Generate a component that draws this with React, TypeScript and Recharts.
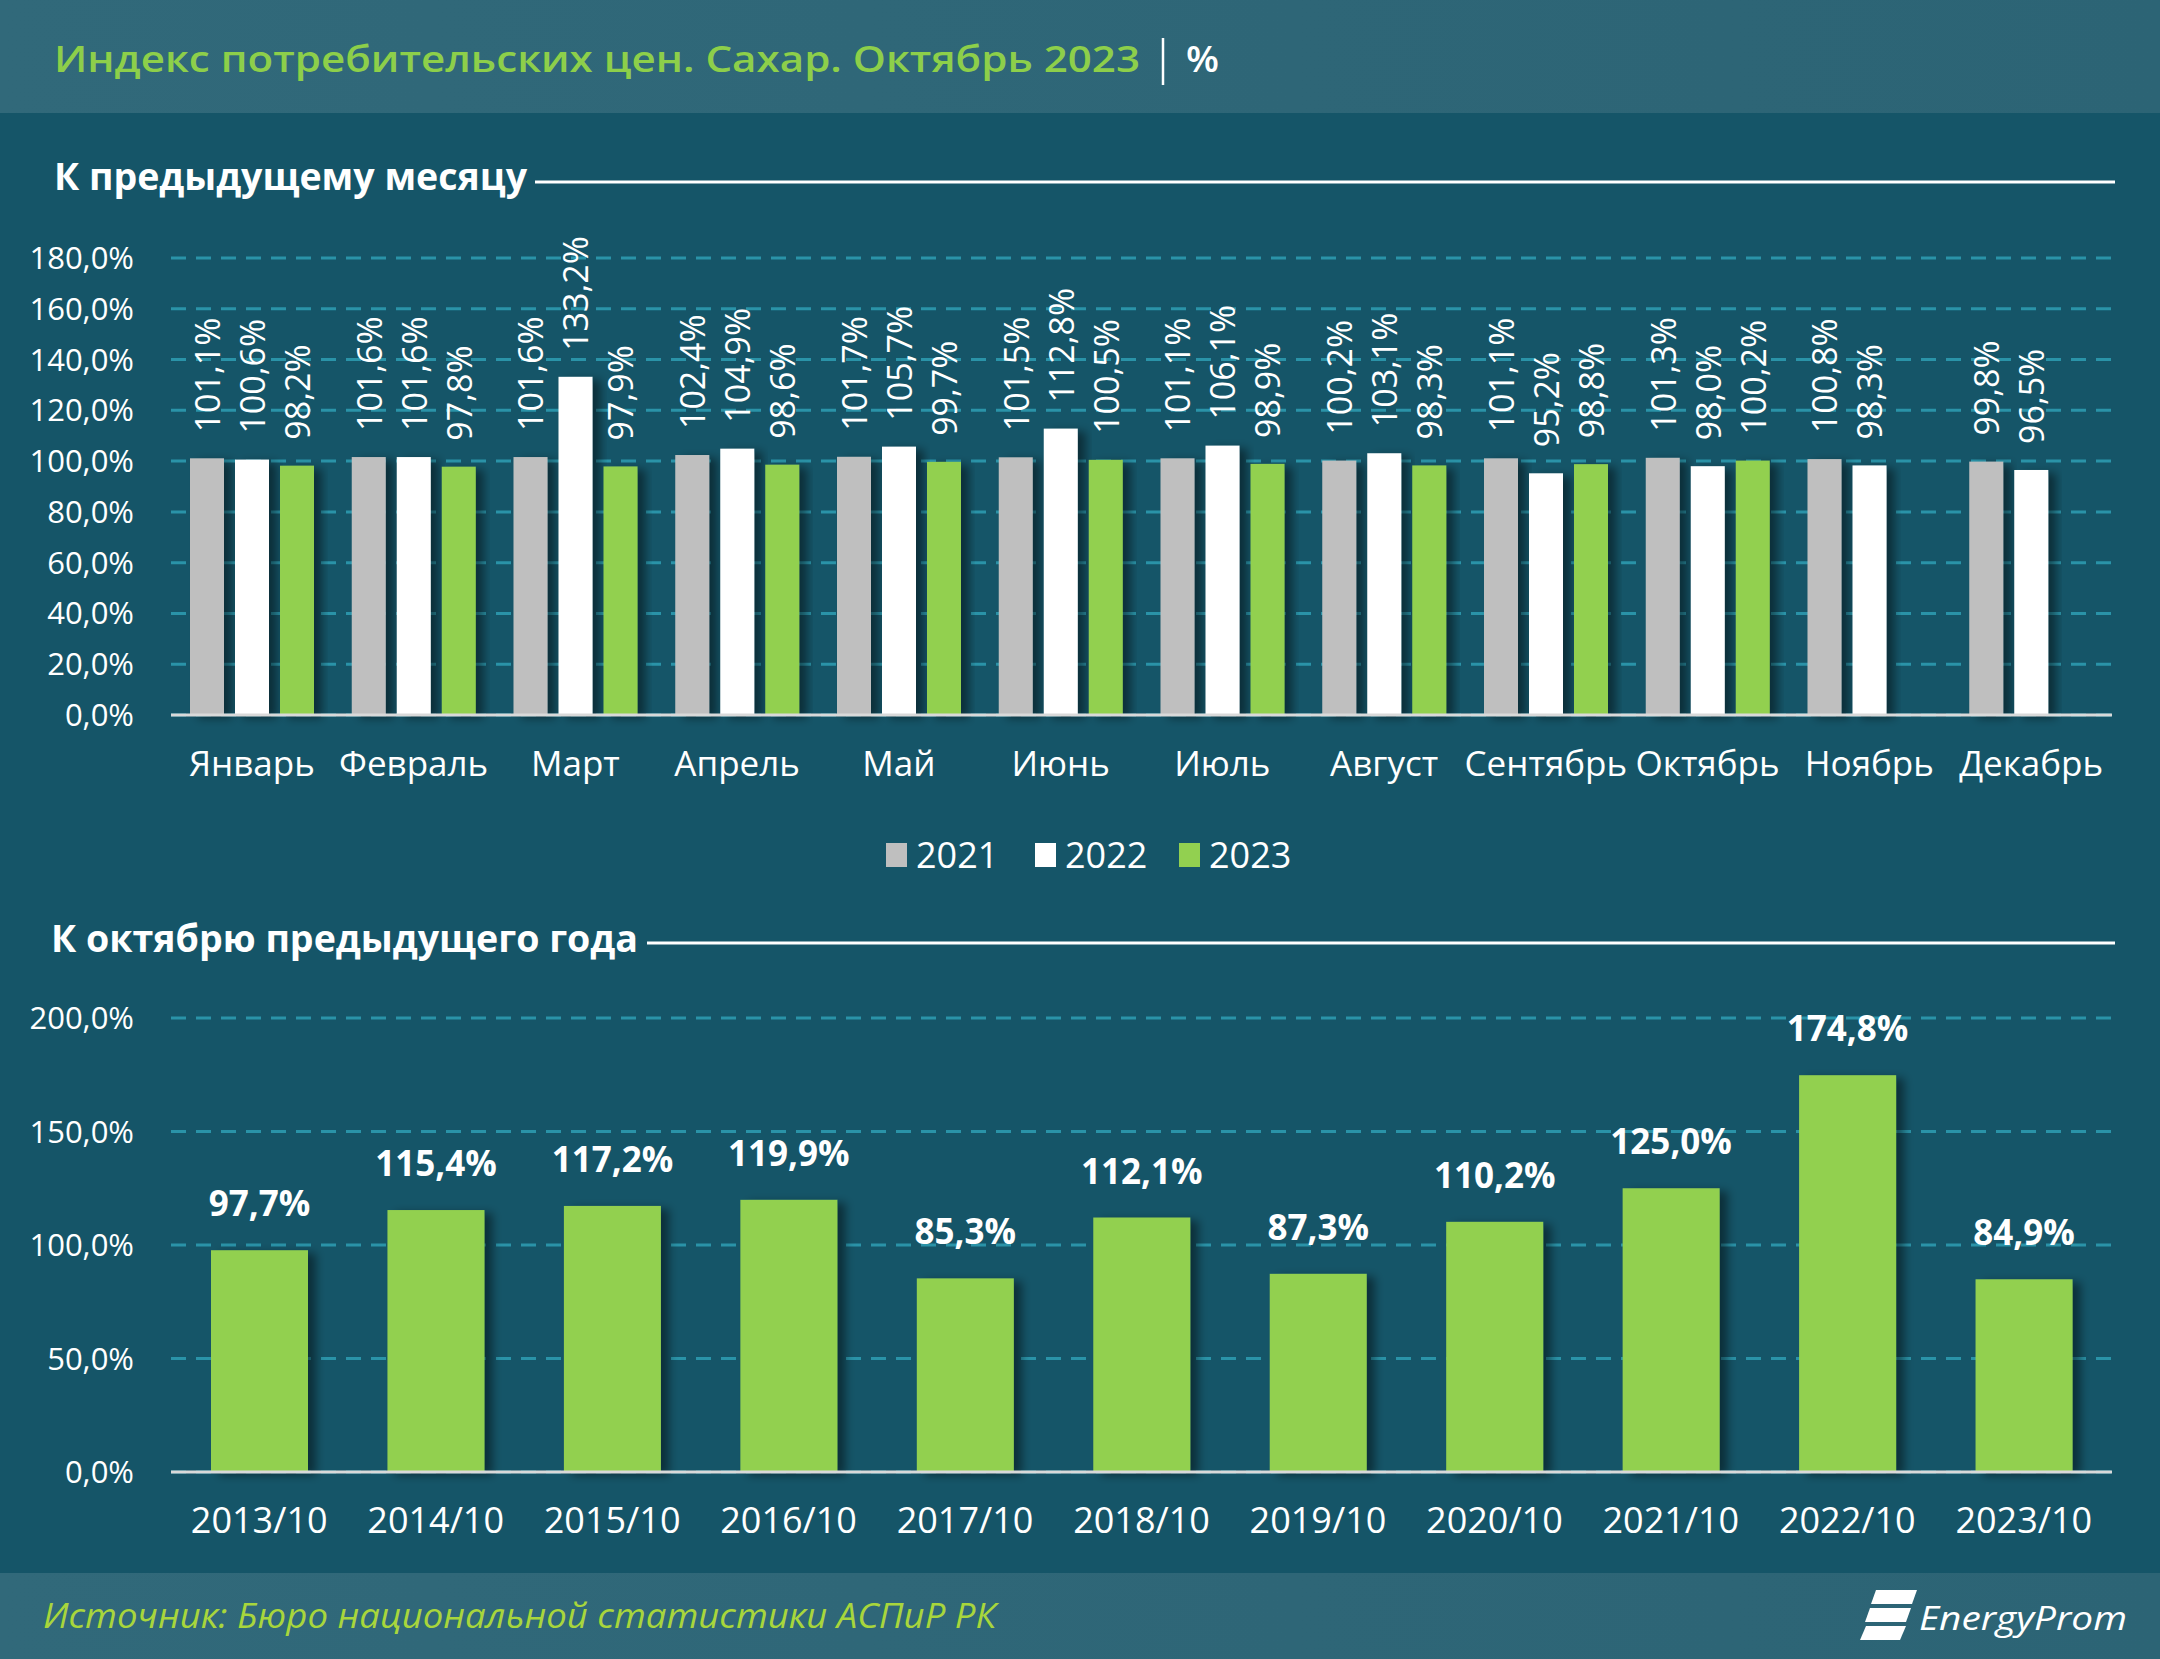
import { BarChart, Bar, XAxis, YAxis, CartesianGrid, LabelList } from 'recharts'

const months = ['Январь', 'Февраль', 'Март', 'Апрель', 'Май', 'Июнь', 'Июль', 'Август', 'Сентябрь', 'Октябрь', 'Ноябрь', 'Декабрь']
const idx2021 = [101.1, 101.6, 101.6, 102.4, 101.7, 101.5, 101.1, 100.2, 101.1, 101.3, 100.8, 99.8]
const idx2022 = [100.6, 101.6, 133.2, 104.9, 105.7, 112.8, 106.1, 103.1, 95.2, 98.0, 98.3, 96.5]
const idx2023 = [98.2, 97.8, 97.9, 98.6, 99.7, 100.5, 98.9, 98.3, 98.8, 100.2, null, null]
const monthTicks = [0, 20, 40, 60, 80, 100, 120, 140, 160, 180]

const periods = ['2013/10', '2014/10', '2015/10', '2016/10', '2017/10', '2018/10', '2019/10', '2020/10', '2021/10', '2022/10', '2023/10']
const yoyValues = [97.7, 115.4, 117.2, 119.9, 85.3, 112.1, 87.3, 110.2, 125.0, 174.8, 84.9]
const yoyTicks = [0, 50, 100, 150, 200]

const seriesNames = ['2021', '2022', '2023']
const seriesColors = ['#bfbfbf', '#ffffff', '#92d050']

const monthData = months.map((m, i) => ({ m, a: idx2021[i], b: idx2022[i], c: idx2023[i] }))
const yoyData = periods.map((p, i) => ({ p, v: yoyValues[i] }))

const fmt = (v: number) => v.toFixed(1).replace('.', ',') + '%'

const BG = '#155568'
const GRID = '#2a93a8'
const FONT = "'Open Sans', sans-serif"

function ShadowBar(props: any) {
  const { x, y, width, height, fill } = props
  if (height == null || height <= 0) return null
  return <rect x={x} y={y} width={width} height={height} fill={fill} filter="url(#barShadow)" />
}

function box(props: any) {
  const vb = props.viewBox && props.x == null ? props.viewBox : props
  return { x: Number(vb.x), y: Number(vb.y), width: Number(vb.width) }
}

function RotatedLabel(props: any) {
  if (props.value == null) return null
  const { x, y, width } = box(props)
  const cx = x + width / 2
  const ty = y - 26
  return (
    <text x={cx} y={ty} transform={`rotate(-90 ${cx} ${ty})`} textAnchor="start" dominantBaseline="central" fill="#ffffff" fontSize={34}>
      {fmt(props.value)}
    </text>
  )
}

function TopLabel(props: any) {
  if (props.value == null) return null
  const { x, y, width } = box(props)
  return (
    <text x={x + width / 2} y={y - 34} textAnchor="middle" fill="#ffffff" fontSize={35} fontWeight={700}>
      {fmt(props.value)}
    </text>
  )
}

function Decor() {
  const legendX = [886, 1035, 1179]
  return (
    <svg width={2160} height={1659} style={{ position: 'absolute', left: 0, top: 0 }}>
      <defs>
        <filter id="barShadow" x="-20%" y="-10%" width="160%" height="130%">
          <feDropShadow dx={8} dy={3} stdDeviation={5} floodColor="#000000" floodOpacity={0.45} />
        </filter>
        <linearGradient id="band" x1="0" x2="1" y1="0" y2="0">
          <stop offset="0" stopColor="#31697a" />
          <stop offset="1" stopColor="#2c6475" />
        </linearGradient>
      </defs>
      <rect x={0} y={0} width={2160} height={1659} fill={BG} />
      <rect x={0} y={0} width={2160} height={113} fill="url(#band)" />
      <rect x={0} y={1573} width={2160} height={86} fill="url(#band)" />
      <text x={54} y={72} fill="#8dcf4a" fontSize={36} fontWeight={600} textLength={1086} lengthAdjust="spacingAndGlyphs">
        Индекс потребительских цен. Сахар. Октябрь 2023
      </text>
      <line x1={1163} x2={1163} y1={38} y2={85} stroke="#ffffff" strokeWidth={2.5} />
      <text x={1186} y={72} fill="#ffffff" fontSize={36} fontWeight={600} textLength={33} lengthAdjust="spacingAndGlyphs">%</text>

      <text x={54} y={190} fill="#ffffff" fontSize={37} fontWeight={700} textLength={473} lengthAdjust="spacingAndGlyphs">
        К предыдущему месяцу
      </text>
      <line x1={535} x2={2115} y1={182} y2={182} stroke="#ffffff" strokeWidth={3} />

      {seriesNames.map((s, i) => (
        <g key={s}>
          <rect x={legendX[i]} y={843} width={21} height={24} fill={seriesColors[i]} />
          <text x={legendX[i] + 30} y={868} fill="#ffffff" fontSize={36}>{s}</text>
        </g>
      ))}

      <text x={51} y={952} fill="#ffffff" fontSize={37} fontWeight={700} textLength={587} lengthAdjust="spacingAndGlyphs">
        К октябрю предыдущего года
      </text>
      <line x1={647} x2={2115} y1={943} y2={943} stroke="#ffffff" strokeWidth={3} />

      <text x={43} y={1628} fill="#a8d63c" fontSize={35} fontStyle="italic" textLength={953} lengthAdjust="spacingAndGlyphs">
        Источник: Бюро национальной статистики АСПиР РК
      </text>

      <g fill="#ffffff">
        <polygon points="1876,1590 1917,1590 1912,1604 1871,1604" />
        <polygon points="1870,1608 1911,1608 1906,1622 1865,1622" />
        <polygon points="1866,1626 1906,1626 1900,1640 1860,1640" />
      </g>
      <text x={1919} y={1630} fill="#ffffff" fontSize={33} fontStyle="italic" textLength={208} lengthAdjust="spacingAndGlyphs">
        EnergyProm
      </text>
    </svg>
  )
}

export default function App() {
  return (
    <div style={{ position: 'absolute', left: 0, top: 0, width: 2160, height: 1659, fontFamily: FONT, overflow: 'hidden' }}>
      <Decor />

      <div style={{ position: 'absolute', left: 0, top: 200 }}>
        <BarChart width={2160} height={600} data={monthData} margin={{ top: 58, right: 48, bottom: 0, left: 0 }} barSize={34} barGap={11}>
          <CartesianGrid vertical={false} stroke={GRID} strokeWidth={3} strokeDasharray="15 10" />
          <XAxis
            dataKey="m"
            height={85}
            tickLine={false}
            axisLine={{ stroke: '#d9d9d9', strokeWidth: 3 }}
            tick={{ fill: '#ffffff', fontSize: 35 }}
            tickSize={0}
            tickMargin={36}
            interval={0}
          />
          <YAxis
            width={171}
            domain={[0, 180]}
            ticks={monthTicks}
            axisLine={false}
            tickLine={false}
            tickSize={0}
            tickMargin={37}
            tick={{ fill: '#ffffff', fontSize: 31 }}
            tickFormatter={fmt}
          />
          <Bar dataKey="a" name={seriesNames[0]} fill={seriesColors[0]} shape={ShadowBar} isAnimationActive={false}>
            <LabelList dataKey="a" content={RotatedLabel} />
          </Bar>
          <Bar dataKey="b" name={seriesNames[1]} fill={seriesColors[1]} shape={ShadowBar} isAnimationActive={false}>
            <LabelList dataKey="b" content={RotatedLabel} />
          </Bar>
          <Bar dataKey="c" name={seriesNames[2]} fill={seriesColors[2]} shape={ShadowBar} isAnimationActive={false}>
            <LabelList dataKey="c" content={RotatedLabel} />
          </Bar>
        </BarChart>
      </div>

      <div style={{ position: 'absolute', left: 0, top: 960 }}>
        <BarChart width={2160} height={620} data={yoyData} margin={{ top: 58, right: 48, bottom: 0, left: 0 }} barSize={97}>
          <CartesianGrid vertical={false} stroke={GRID} strokeWidth={3} strokeDasharray="15 10" />
          <XAxis
            dataKey="p"
            height={108}
            tickLine={false}
            axisLine={{ stroke: '#d9d9d9', strokeWidth: 3 }}
            tick={{ fill: '#ffffff', fontSize: 36 }}
            tickSize={0}
            tickMargin={35}
            interval={0}
          />
          <YAxis
            width={171}
            domain={[0, 200]}
            ticks={yoyTicks}
            axisLine={false}
            tickLine={false}
            tickSize={0}
            tickMargin={37}
            tick={{ fill: '#ffffff', fontSize: 31 }}
            tickFormatter={fmt}
          />
          <Bar dataKey="v" fill={seriesColors[2]} shape={ShadowBar} isAnimationActive={false}>
            <LabelList dataKey="v" content={TopLabel} />
          </Bar>
        </BarChart>
      </div>
    </div>
  )
}
